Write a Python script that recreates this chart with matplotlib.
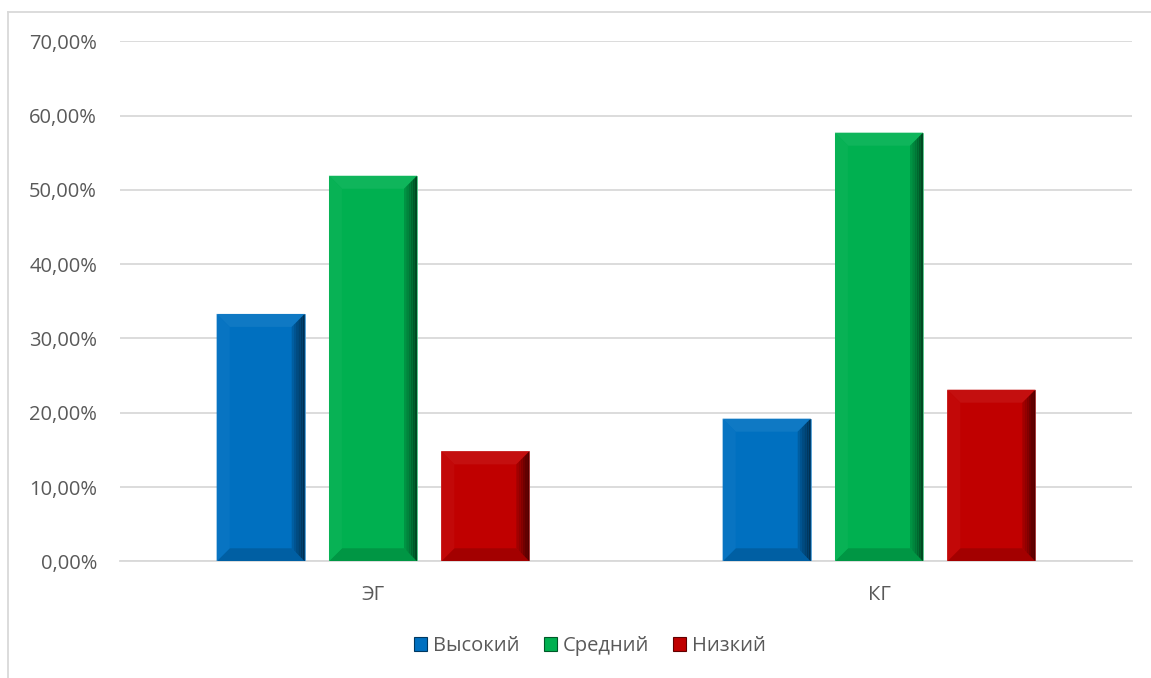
import matplotlib
matplotlib.use("Agg")
import matplotlib.pyplot as plt
from matplotlib.patches import Polygon, Rectangle
from matplotlib.lines import Line2D
from matplotlib.ticker import FuncFormatter
import matplotlib.colors as mcolors
import numpy as np

categories = ["ЭГ", "КГ"]
series_names = ["Высокий", "Средний", "Низкий"]
vysokiy = [33.3, 19.2]
sredniy = [51.9, 57.7]
nizkiy = [14.8, 23.1]
series_values = [vysokiy, sredniy, nizkiy]
colors = ["#0070C0", "#00B050", "#C00000"]

plt.rcParams['font.family'] = ['Open Sans', 'DejaVu Sans']
TXT = "#595959"
GRID = "#D9D9D9"

W, H = 1151, 678
fig = plt.figure(figsize=(W / 100, H / 100), dpi=100)
ax = fig.add_axes([120 / W, 1 - 561.3 / H, (1132 - 120) / W, (561.3 - 41.3) / H])

x = np.arange(len(categories))
bw = 0.174
off = 0.222

def shade(c, f):
    r, g, b = mcolors.to_rgb(c)
    if f < 0:
        return (r * (1 + f), g * (1 + f), b * (1 + f))
    return (r + (1 - r) * f, g + (1 - g) * f, b + (1 - b) * f)

ax.set_xlim(-0.5, len(categories) - 0.5)
ax.set_ylim(0, 70)

px_x = (len(categories)) / (1132 - 120)   # data units per pixel (x)
px_y = 70 / 520.0                          # data units per pixel (y)
dx = 13 * px_x
dy = 13 * px_y

for i, (name, vals, col) in enumerate(zip(series_names, series_values, colors)):
    bars = ax.bar(x + (i - 1) * off, vals, width=bw, color=col, label=name,
                  zorder=3, edgecolor=shade(col, 0.35), linewidth=0.6)
    for b in bars:
        x0, y0 = b.get_x(), b.get_y()
        w, h = b.get_width(), b.get_height()
        x1, y1 = x0 + w, y0 + h
        ix0, ix1 = x0 + dx, x1 - dx
        iy0, iy1 = y0 + dy, y1 - dy
        # top bevel (lighter)
        ax.add_patch(Polygon([(x0, y1), (x1, y1), (ix1, iy1), (ix0, iy1)],
                             closed=True, facecolor=shade(col, 0.06), edgecolor='none', zorder=4))
        # bottom bevel (darker)
        ax.add_patch(Polygon([(x0, y0), (x1, y0), (ix1, iy0), (ix0, iy0)],
                             closed=True, facecolor=shade(col, -0.15), edgecolor='none', zorder=4))
        # left bevel (slightly lighter)
        ax.add_patch(Polygon([(x0, y0), (x0, y1), (ix0, iy1), (ix0, iy0)],
                             closed=True, facecolor=shade(col, 0.03), edgecolor='none', zorder=4))
        # right bevel (darker, stepped gradient)
        nstep = 6
        for k in range(nstep):
            a = k / nstep
            bfrac = (k + 1) / nstep
            xa = ix1 + (x1 - ix1) * a
            xb = ix1 + (x1 - ix1) * bfrac
            ya_t = iy1 + (y1 - iy1) * a
            yb_t = iy1 + (y1 - iy1) * bfrac
            ya_b = iy0 - (iy0 - y0) * a
            yb_b = iy0 - (iy0 - y0) * bfrac
            ax.add_patch(Polygon([(xa, ya_b), (xa, ya_t), (xb, yb_t), (xb, yb_b)],
                                 closed=True, facecolor=shade(col, -0.08 - 0.5 * bfrac),
                                 edgecolor='none', zorder=4))

ax.set_yticks(np.arange(0, 71, 10))
ax.yaxis.set_major_formatter(FuncFormatter(lambda v, p: f"{v:.2f}".replace('.', ',') + "%"))
ax.set_xticks(x)
ax.set_xticklabels(categories)
ax.grid(axis='y', color=GRID, linewidth=1.3, zorder=0)
ax.set_axisbelow(True)
for s in ['top', 'right', 'left']:
    ax.spines[s].set_visible(False)
ax.spines['bottom'].set_color(GRID)
ax.spines['bottom'].set_linewidth(1.3)
ax.tick_params(axis='both', length=0, colors=TXT, labelsize=14.5)
ax.tick_params(axis='y', pad=16.5)
ax.tick_params(axis='x', pad=17)

handles = [Rectangle((0, 0), 1, 1, facecolor=c, edgecolor=shade(c, -0.5), linewidth=0.8)
           for c in colors]
leg = fig.legend(handles, series_names, loc='center', bbox_to_anchor=(590 / W, 1 - 646 / H),
                 ncol=3, frameon=False, fontsize=14.5, handlelength=0.65, handleheight=0.65,
                 handletextpad=0.3, columnspacing=1.2, labelcolor=TXT)

# outer chart frame (partially visible)
fig.add_artist(Line2D([8 / W, 8 / W], [0, 1 - 12 / H], transform=fig.transFigure,
                      color=GRID, linewidth=1.3))
fig.add_artist(Line2D([8 / W, 1], [1 - 12 / H, 1 - 12 / H], transform=fig.transFigure,
                      color=GRID, linewidth=1.3))

fig.savefig("out.png", dpi=100, facecolor='white')
